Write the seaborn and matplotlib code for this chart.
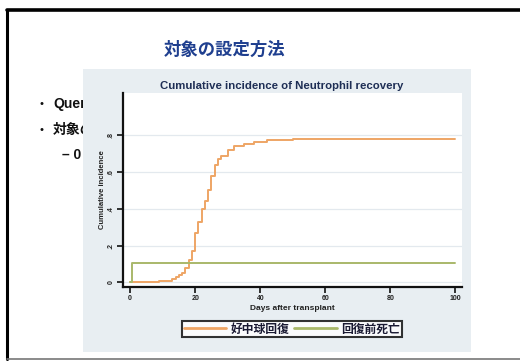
import matplotlib
matplotlib.use("Agg")
import matplotlib.pyplot as plt
from matplotlib.patches import Rectangle
from matplotlib.lines import Line2D
import pandas as pd
import seaborn as sns

# Cumulative incidence step curves (days after transplant, probability)
recovery_days = [0, 9, 11, 13, 14, 15, 16, 17, 18, 19, 20, 21, 22, 23, 24, 25,
                 26, 27, 28, 30, 32, 35, 38, 42, 50, 100]
recovery_ci = [0.0, 0.005, 0.01, 0.02, 0.03, 0.04, 0.05, 0.08, 0.12, 0.17, 0.27,
               0.33, 0.40, 0.44, 0.50, 0.58, 0.64, 0.67, 0.69, 0.72, 0.74, 0.755,
               0.765, 0.775, 0.78, 0.78]
death_days = [0, 0.5, 100]
death_ci = [0.0, 0.105, 0.105]

series_labels = ["好中球回復", "回復前死亡"]
series_colors = ["#eea565", "#a9b86a"]
x_ticks = [0, 20, 40, 60, 80, 100]
y_ticks = [0, 0.2, 0.4, 0.6, 0.8]
y_tick_labels = ["0", ".2", ".4", ".6", ".8"]

slide_title = "対象の設定方法"
bullets = ["Query", "対象の"]
sub_bullet = "0"
chart_title = "Cumulative incidence of Neutrophil recovery"

df = pd.concat([
    pd.DataFrame({"day": recovery_days, "ci": recovery_ci, "event": series_labels[0]}),
    pd.DataFrame({"day": death_days, "ci": death_ci, "event": series_labels[1]}),
], ignore_index=True)

sns.set_theme(style="white")
plt.rcParams["font.family"] = ["Liberation Sans", "Noto Sans CJK JP", "DejaVu Sans"]

W, H = 520, 361
fig = plt.figure(figsize=(W / 100, H / 100), dpi=100)
fig.patch.set_facecolor("white")


def fx(px):
    return px / W


def fy(py):
    return 1 - py / H


# Slide frame
fig.add_artist(Line2D([fx(7), fx(7)], [fy(10), fy(359)], color="black", lw=2.2, zorder=5))
fig.add_artist(Line2D([fx(7), 1.0], [fy(10), fy(10)], color="black", lw=2.6, zorder=5))
fig.add_artist(Line2D([fx(7), 1.0], [fy(359), fy(359)], color="#777777", lw=1.2, zorder=5))

# Slide title and bullets (partly hidden behind the chart image)
fig.text(fx(225), fy(50), slide_title, ha="center", va="center", fontsize=12.5,
         fontweight="bold", color="#1f3f8f", family=["Noto Sans CJK JP"], zorder=-3)
for i, b in enumerate(bullets):
    yy = fy(104 + 26 * i)
    fig.text(fx(41), yy, "•", ha="center", va="center", fontsize=8, color="#111111", zorder=-3)
    fig.text(fx(53), yy, b, ha="left", va="center", fontsize=10, fontweight="bold",
             color="#111111", family=["Liberation Sans", "Noto Sans CJK JP"], zorder=-3)
fig.text(fx(62), fy(155), "– " + sub_bullet, ha="left", va="center", fontsize=10,
         fontweight="bold", color="#111111", zorder=-3)

# Chart image backdrop
fig.add_artist(Rectangle((fx(83), fy(352)), fx(471 - 83), (352 - 69) / H,
                         transform=fig.transFigure, facecolor="#e8eef2",
                         edgecolor="none", zorder=-1))

ax = fig.add_axes([fx(123), fy(287), fx(462 - 123), (287 - 93) / H])
ax.set_facecolor("white")
sns.lineplot(data=df, x="day", y="ci", hue="event", palette=series_colors,
             estimator=None, sort=True, drawstyle="steps-post", linewidth=1.4,
             legend=False, ax=ax)

ax.set_xlim(-2.2, 102)
ax.set_ylim(-0.025, 1.03)
ax.set_xticks(x_ticks)
ax.set_xticklabels([str(t) for t in x_ticks], fontsize=5, fontweight="bold")
ax.set_yticks(y_ticks)
ax.set_yticklabels(y_tick_labels, fontsize=5, fontweight="bold", rotation=90, va="center")
ax.tick_params(axis="both", direction="out", length=4, width=1.2, color="#111111",
               pad=2, left=True, bottom=True)
for t in ax.get_xticklabels() + ax.get_yticklabels():
    t.set_color("#222222")
for s in ["top", "right"]:
    ax.spines[s].set_visible(False)
for s in ["left", "bottom"]:
    ax.spines[s].set_color("#111111")
    ax.spines[s].set_linewidth(1.6)
ax.grid(axis="y", color="#e3e9ee", linewidth=0.9)
ax.set_axisbelow(True)
ax.set_xlabel("Days after transplant", fontsize=6, fontweight="bold", color="#222222", labelpad=2)
ax.set_ylabel("Cumulative incidence", fontsize=5.5, fontweight="bold", color="#222222", labelpad=1)

fig.text(fx(282), fy(86), chart_title, ha="center", va="center", fontsize=8.2,
         fontweight="bold", color="#1e2e55")

handles = [Line2D([0], [0], color=c, lw=2) for c in series_colors]
leg = fig.legend(handles, series_labels, loc="center", bbox_to_anchor=(fx(292), fy(329)),
                 ncol=2, frameon=True, fancybox=False, edgecolor="black",
                 prop={"family": ["Noto Sans CJK JP"], "size": 8.5, "weight": "bold"},
                 handlelength=3.6, columnspacing=0.4, handletextpad=0.4,
                 borderpad=0.15, borderaxespad=0)
leg.get_frame().set_linewidth(1.5)
for t in leg.get_texts():
    t.set_color("#1a1a33")

fig.savefig("out.png", dpi=100)
